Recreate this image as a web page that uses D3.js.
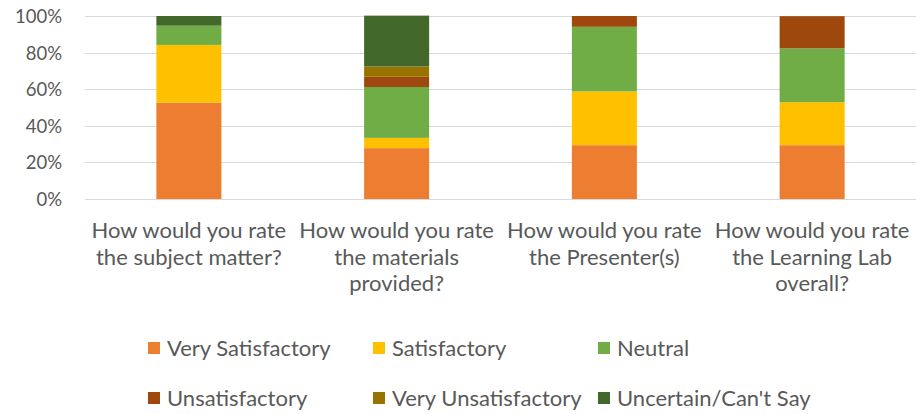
<!DOCTYPE html>
<html>
<head>
<meta charset="utf-8">
<script src="https://cdn.jsdelivr.net/npm/d3@7"></script>
<style>
  html, body { margin: 0; padding: 0; background: #fff; }
  svg { display: block; }
  text { font-family: Lato, "Open Sans", sans-serif; fill: #595959; }
</style>
</head>
<body>
<div id="chart"></div>
<script>
// ---- data ----
const categories = [
  "How would you rate the subject matter?",
  "How would you rate the materials provided?",
  "How would you rate the Presenter(s)",
  "How would you rate the Learning Lab overall?"
];
const seriesNames = ["Very Satisfactory", "Satisfactory", "Neutral", "Unsatisfactory", "Very Unsatisfactory", "Uncertain/Can't Say"];
const verySatisfactory   = [52.6, 27.8, 29.4, 29.4];
const satisfactory       = [31.6, 5.6, 29.4, 23.5];
const neutral            = [10.5, 27.8, 35.3, 29.4];
const unsatisfactory     = [0, 5.6, 5.9, 17.6];
const veryUnsatisfactory = [0, 5.6, 0, 0];
const uncertain          = [5.3, 27.8, 0, 0];
const yTicks = [0, 20, 40, 60, 80, 100];
const colors = ["#ED7D31", "#FFC000", "#70AD47", "#9E480E", "#997300", "#43682B"];

const seriesValues = [verySatisfactory, satisfactory, neutral, unsatisfactory, veryUnsatisfactory, uncertain];

// ---- layout ----
const W = 917, H = 414;
const svg = d3.select("#chart").append("svg").attr("width", W).attr("height", H);

const x = d3.scaleBand().domain(categories).range([85, 916]).paddingInner(0.687).paddingOuter(0.3435);
const y = d3.scaleLinear().domain([0, 100]).range([199, 16]);

// gridlines
svg.append("g").selectAll("line").data(yTicks).join("line")
  .attr("x1", 85).attr("x2", 916)
  .attr("y1", d => Math.round(y(d)) + 0.5).attr("y2", d => Math.round(y(d)) + 0.5)
  .attr("stroke", "#D9D9D9").attr("stroke-width", 1);

// y axis labels
const yAxis = d3.axisLeft(y).tickValues(yTicks).tickFormat(d => d + "%").tickSize(0).tickPadding(0);
const yg = svg.append("g").attr("transform", "translate(62,0)").call(yAxis);
yg.select(".domain").remove();
yg.selectAll("text").style("font-size", "18.5px").style("fill", "#595959")
  .style("font-family", "Lato, sans-serif").attr("dy", "0.35em");

// stacked data
const rows = categories.map((c, i) => {
  const o = { cat: c };
  seriesNames.forEach((s, j) => { o[s] = seriesValues[j][i]; });
  return o;
});
const stacked = d3.stack().keys(seriesNames)(rows);

svg.append("g").selectAll("g").data(stacked).join("g")
  .attr("fill", (d, i) => colors[i])
  .selectAll("rect").data(d => d).join("rect")
  .attr("x", d => x(d.data.cat))
  .attr("width", x.bandwidth())
  .attr("y", d => y(d[1]))
  .attr("height", d => Math.max(0, y(d[0]) - y(d[1])));

// x labels with wrapping
const FS = "22px";
const xg = svg.append("g");
categories.forEach(c => {
  const cx = x(c) + x.bandwidth() / 2;
  const t = xg.append("text").attr("text-anchor", "middle").style("font-size", FS);
  const words = c.split(" ");
  let lines = [], cur = [];
  const maxW = 204;
  const probe = xg.append("text").style("font-size", FS);
  words.forEach(w => {
    const test = cur.concat(w).join(" ");
    probe.text(test);
    if (probe.node().getComputedTextLength() > maxW && cur.length) {
      lines.push(cur.join(" "));
      cur = [w];
    } else cur.push(w);
  });
  lines.push(cur.join(" "));
  probe.remove();
  lines.forEach((ln, i) => {
    t.append("tspan").attr("x", cx).attr("y", 238 + i * 26.7).text(ln);
  });
});

// legend
const legendPos = [
  [148, 348], [373, 348], [598, 348],
  [148, 398], [373, 398], [598, 398]
];
const lg = svg.append("g");
seriesNames.forEach((s, i) => {
  const [lx, ly] = legendPos[i];
  lg.append("rect").attr("x", lx).attr("y", ly - 6).attr("width", 12).attr("height", 12).attr("fill", colors[i]);
  lg.append("text").attr("x", lx + 19).attr("y", ly).attr("dy", "0.35em")
    .style("font-size", FS).text(s);
});
</script>
</body>
</html>
